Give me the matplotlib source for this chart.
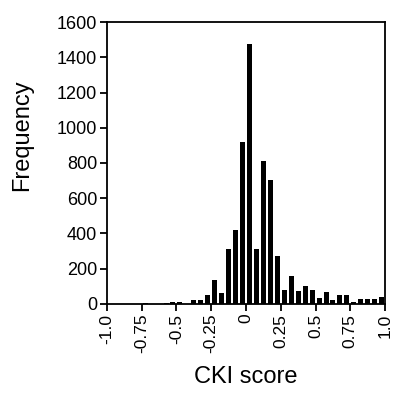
import numpy as np
import matplotlib
matplotlib.use('Agg')
import matplotlib.pyplot as plt

plt.rcParams['font.family'] = ['Liberation Sans', 'DejaVu Sans']

# histogram of CKI scores, bins of 0.05 from -1.0 to 1.0
bin_width = 0.05
bin_starts = np.round(np.arange(-1.0, 1.0, bin_width), 2)
counts = [0, 0, 0, 0, 0, 4, 0, 0, 8, 13,
          13, 0, 21, 21, 51, 134, 62, 312, 420, 917,
          1475, 312, 809, 705, 273, 82, 157, 74, 100, 78,
          35, 67, 25, 49, 49, 14, 31, 27, 29, 39]

xtick_vals = [-1.0, -0.75, -0.5, -0.25, 0, 0.25, 0.5, 0.75, 1.0]
xtick_labels = ['-1.0', '-0.75', '-0.5', '-0.25', '0', '0.25', '0.5', '0.75', '1.0']
ytick_vals = [0, 200, 400, 600, 800, 1000, 1200, 1400, 1600]

fig = plt.figure(figsize=(3.93, 3.93), dpi=100)
ax = fig.add_axes([0.272, 0.2265, 0.708, 0.7175])

ax.bar(bin_starts + bin_width / 2, counts, width=bin_width * 0.72,
       color='black', edgecolor='none')

ax.set_xlim(-1.0, 1.0)
ax.set_ylim(0, 1600)
ax.set_xticks(xtick_vals)
ax.set_xticklabels(xtick_labels, rotation=90)
ax.set_yticks(ytick_vals)
ax.tick_params(direction='out', length=5, width=1.3, labelsize=13,
               colors='black', pad=2)
ax.tick_params(axis='x', labelsize=12.5)
for s in ax.spines.values():
    s.set_linewidth(1.3)

ax.set_xlabel('CKI score', fontsize=17)
ax.set_ylabel('Frequency', fontsize=17)
ax.xaxis.set_label_coords(0.5, -0.22)
ax.yaxis.set_label_coords(-0.265, 0.6)

fig.savefig('out.png', dpi=100)
